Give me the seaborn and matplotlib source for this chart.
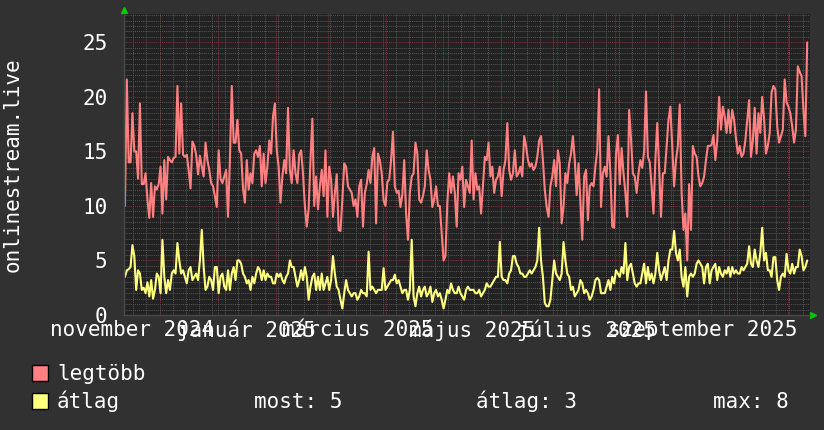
import matplotlib
matplotlib.use("Agg")
import matplotlib.pyplot as plt
from matplotlib.patches import Rectangle
from matplotlib.ticker import MultipleLocator
import pandas as pd
import seaborn as sns

# daily values, first day 2024-11-13
start_day = "2024-11-13"

legtobb = [
    10, 21.6, 14, 14, 18.5, 15, 15, 12.5, 19.4, 12, 12, 13, 10.6, 8.9, 12.1, 9, 11.8, 11.5,
    12, 13.6, 9.3, 14.2, 10.6, 14.5, 14.2, 14, 14.4, 14.5, 21, 14.8, 19.4, 14.7, 14.5, 14.7,
    13.3, 11.6, 15.9, 15.5, 14.7, 12.9, 14.6, 13.6, 12.7, 15.8, 14.2, 13.3, 12.1, 11.8, 10.9,
    9.9, 15.1, 12.5, 12.1, 12.7, 13.3, 9, 14.2, 21, 15.8, 15.8, 17.9, 15.1, 14.8, 11.6, 10.3,
    14.2, 11.5, 13, 12.1, 14.8, 15.1, 14.5, 15.5, 11.8, 14.8, 12.1, 13.6, 16, 14.8, 18.2,
    19.4, 15.1, 13.6, 10.3, 12.7, 14.2, 13, 19, 13.3, 12.1, 15.1, 13, 12.1, 14.7, 15.1, 13,
    10, 8.1, 9.7, 14.2, 18, 10, 12.7, 9.7, 11.8, 13.3, 10.9, 15.1,
    9, 13.6, 12.4, 9, 11.2, 12.9, 7.8, 7.7, 10.6, 13.9, 13.6, 11.8, 11.5, 11.2, 10, 10.6,
    9, 11.8, 12.4, 8.1, 11.2, 12, 13.3, 12.1,
    14.5, 15.3, 8.4, 14.8, 14.2, 13, 10.5, 10, 12.2, 12.4,
    14.2, 16.8, 11.8, 11.2, 11.4, 9.9, 11, 14.2, 9.3, 6.9,
    11.2, 12.7, 13, 15.8, 14.8, 10.6, 10.3, 10.9, 11.8, 15.1,
    13.3, 12.4, 9.9, 10.6, 11.8, 10, 10, 7.5, 5, 5.4,
    10.3, 13, 11.2, 12.7, 11.2, 8.1, 13, 12.4, 13.6, 9.9,
    12.4, 11.8, 11.2, 16, 10.6, 13, 11.5, 11.8, 9.3, 11.8,
    14.5, 14.2, 15.8, 12.7, 13.6, 11.2, 12.4, 12.7, 13.6, 10.9,
    13.3, 14.2, 17.6, 13.3, 12.4, 13, 15.1, 12.7, 13, 13.6,
    12.7, 16.4, 15.5, 14.2, 13.6, 13.9, 13.3, 13.6, 14.5, 16,
    16.4, 14.2, 11.5, 9.9, 9, 11.8, 12.7, 14.2, 11.8, 15.1,
    13.9, 8.4, 9.9, 13, 12.1, 13.9, 14.8, 16.4, 14.2, 11,
    13.9, 10.3, 6.9, 12.7, 13.3, 8.7, 11.8, 12.1, 11.8, 13.6,
    15.1, 20.7, 9.9, 13, 13.6, 12.7, 16.4, 13,
    8.1, 8, 14.8, 16.5, 12, 15.3, 13, 11.2, 9, 18.8,
    16.2, 13, 12.7, 11.2, 13, 14.2, 13.5, 15, 20.5, 14.5,
    14, 11.8, 9.3, 14.2, 17.6, 13.6, 9, 13, 13, 15.5,
    17.9, 19.1, 15.5, 11.8, 14.2, 15.5, 19.3, 11.2, 7.8, 9.3,
    5, 12, 7.8, 15.5, 14.8, 14.5, 12.7, 11.8, 12.1, 12.7,
    14.2, 15.5, 15.5, 15.6, 16.5, 14.2, 16, 20, 17, 19.1,
    18.2, 16.7, 18.8, 16.7, 18.8, 17.9, 16.2, 14.8, 15.5, 14.5,
    14.8, 16, 17.9, 19.7, 14.5, 16, 19, 14.8, 18.5, 16.7,
    20, 18, 14.8, 15.5, 16.7, 20.4, 21, 20.7, 17.3, 15.8,
    16.4, 17, 21.6, 19.5, 19.1, 18.5, 17.3, 15.8, 17, 22.8,
    22.3, 21.9, 18.8, 16.4, 25,
]

atlag = [
    3.5, 4.1, 4.2, 4.4, 6.4, 5.4, 2.3, 4.1, 3.8, 2.3,
    2.5, 2.0, 3, 1.7, 3.2, 1.5, 2.3, 3.8, 3.5, 2,
    6.9, 3.5, 2, 3.2, 2.3, 3.8, 4.1, 3.8, 6.6, 5,
    3.8, 4.1, 3.5, 2.9, 4.1, 4.4, 3.2, 3.5, 3.8, 3.2,
    5, 7.8, 4.4, 2.3, 2.6, 3.5, 3.2, 2.3, 4.4, 4.4,
    2, 3.5, 3.8, 2.6, 2.3, 4.1, 2.3, 3.8, 4.4, 3.2,
    5, 5, 4.7, 3.8, 3.5, 2.9, 3.2, 2.3, 3.5, 2.9,
    3.8, 4.4, 4.1, 3.2, 4.1, 3.2, 3.8, 3.5, 3.5, 2.9,
    2.9, 3.8, 3.5, 3.8, 3.2, 2.9, 3.5, 3.8, 5, 4.4,
    4.4, 3.5, 2.6, 3.2, 4.1, 3.2, 4.4, 3.5, 1.4, 2.6,
    3.5, 3.8, 2.3, 3.5, 2.3, 3.8, 2.3, 2.9, 3.5, 2.3,
    3.2, 5.4, 3.8, 2.6, 2.3, 1.4, 0.6, 2, 3.2, 2.3,
    2, 1.7, 2, 2, 1.4, 1.7, 2.3, 2, 2, 1.7,
    5.8, 2.3,
    2.6, 2.3, 2, 2.3, 2.3, 2.3, 4.3, 2.3, 2.6, 2.9,
    3.2, 3.2, 3.7, 2.9, 3.2, 2.6, 2, 2.3, 2.3, 1.4,
    2.3, 6.9, 1.7, 0.8, 2, 2.6, 1.7, 2.3, 2.6, 1.7,
    2, 2.6, 1.2, 2, 2.3, 1.7, 2, 1.4, 0.6, 1.4,
    2.3, 2, 2.9, 2.3, 2, 2, 2.6, 2, 1.7, 1.4,
    2.3, 2.6, 2.3, 2.3, 2.3, 2, 2, 2.3, 1.7, 2,
    2.3, 2.9, 2.6, 2.6, 2.9, 3.2, 3.5, 3.5, 6.7, 3.5,
    3.2, 3.2, 2.9, 3.8, 4.1, 5.4, 5.4, 4.7, 4.4, 3.8,
    3.8, 3.5, 3.5, 3.8, 4.1, 3.8, 4.1, 4.4, 5, 8,
    5, 3.5, 1.1, 0.8, 0.8, 1.4, 3.2, 5, 3.8, 3.5,
    3.2, 3.8, 6.7, 5, 3.8, 3.5, 2.3, 2.6, 1.7, 2,
    2.3, 3.2, 2.9, 2, 2.3, 2, 1.4, 1.7, 2.3, 3.2,
    3.4, 3.2, 2, 2, 2, 2.6, 3.2, 2.3,
    3.5, 2.9, 4.1, 3.8, 3.5, 4.4, 3.8, 6.6, 3.2, 4.4,
    4.7, 3.8, 2.9, 2.6, 2.9, 2.9, 3.8, 4.7, 2.9, 4.4,
    3.2, 3.8, 2.9, 3.8, 5.7, 4.1, 3.2, 3.8, 4.4, 3.2,
    5, 6, 6, 7.7, 5.7, 5, 6, 3.5, 2.6, 4.4,
    1.7, 3.5, 3.8, 3.5, 3.8, 4.7, 5, 4.7, 4.4, 2.9,
    4.4, 4.7, 2.9, 4.1, 4.4, 4.7, 3.2, 4.4, 3.8, 3.5,
    4.1, 3.8, 4.4, 3.5, 4.4, 3.8, 4.1, 3.8, 3.8, 4.4,
    4.1, 4.4, 4.7, 6.3, 4.7, 4.4, 6, 5, 4.4, 5.7,
    8, 5, 5.7, 4.1, 4.1, 3.5, 5.3, 5.3, 3.2, 2.3,
    3.5, 3.8, 3.5, 5.6, 4.1, 3.8, 4.7, 3.8, 4.4, 4.4,
    6, 5.4, 4.1, 4.4, 5,
]

label_months = ["2024-11-01", "2025-01-01", "2025-03-01", "2025-05-01", "2025-07-01", "2025-09-01"]
label_names = ["november 2024", "január 2025", "március 2025", "május 2025", "július 2025", "szeptember 2025"]

red = "#ff8080"
yellow = "#ffff80"
bg = "#313131"
canvas = "#222222"

dates = pd.date_range(start_day, periods=len(legtobb), freq="D")
df = pd.DataFrame({"datum": dates, "legtöbb": legtobb, "átlag": atlag})
long = df.melt(id_vars="datum", var_name="sorozat", value_name="ertek")

sns.set_style("dark")
plt.rcParams["font.family"] = ["DejaVu Sans Mono"]
plt.rcParams["font.size"] = 15

fig = plt.figure(figsize=(8.24, 4.30), dpi=100, facecolor=bg)
ax = fig.add_axes([124 / 824, 1 - 315 / 430, 686 / 824, 301 / 430])
ax.set_facecolor(canvas)

xmin = pd.Timestamp("2024-11-12 12:00")
xmax = pd.Timestamp("2025-11-13 12:00")

# grid: weeks and half units minor, months and 5 units major
for d in pd.date_range(xmin, xmax, freq="W-SUN"):
    ax.axvline(d, color="#535353", lw=0.75, ls=(0, (1, 1)), zorder=0)
for d in pd.date_range(xmin, xmax, freq="MS"):
    ax.axvline(d, color="#763434", lw=0.75, ls=(0, (1, 1)), zorder=0.5)
ax.yaxis.set_minor_locator(MultipleLocator(0.5))
ax.yaxis.set_major_locator(MultipleLocator(5))
ax.grid(True, which="minor", axis="y", color="#535353", lw=0.75, ls=(0, (1, 1)))
ax.grid(True, which="major", axis="y", color="#763434", lw=0.75, ls=(0, (1, 1)))
ax.grid(False, axis="x")
ax.set_axisbelow(True)

sns.lineplot(data=long, x="datum", y="ertek", hue="sorozat",
             palette={"legtöbb": red, "átlag": yellow}, linewidth=1.5,
             errorbar=None, legend=False, ax=ax)

ax.set_xlim(xmin, xmax)
ax.set_ylim(0, 27.6)

label_pos = [pd.Timestamp(m) + pd.Timedelta(days=16) for m in label_months]
ax.set_xticks(label_pos)
ax.set_xticklabels(label_names)
ax.tick_params(axis="x", length=0, pad=3.5, colors="white", labelsize=15)
ax.tick_params(axis="y", which="both", length=0, pad=12, colors="white", labelsize=15)
ax.set_xlabel("")
ax.set_ylabel("onlinestream.live", color="white", fontsize=15)
ax.yaxis.set_label_coords(-0.148, 0.5)

for s in ["top", "right"]:
    ax.spines[s].set_visible(False)
for s in ["bottom", "left"]:
    ax.spines[s].set_color("#4a4a4a")
    ax.spines[s].set_linewidth(1)

# axis arrows
ax.plot([0], [1.012], marker="^", color="#00cc00", markersize=4.5, transform=ax.transAxes, clip_on=False)
ax.plot([1.005], [0], marker=">", color="#00cc00", markersize=4.5, transform=ax.transAxes, clip_on=False)

# legend block
fig.patches.append(Rectangle((32 / 824, 1 - 381 / 430), 16 / 824, 16 / 430, transform=fig.transFigure,
                             facecolor=red, edgecolor="black", lw=1))
fig.patches.append(Rectangle((32 / 824, 1 - 409 / 430), 16 / 824, 16 / 430, transform=fig.transFigure,
                             facecolor=yellow, edgecolor="black", lw=1))
fig.text(57 / 824, 1 - 380 / 430, "legtöbb", color="white", fontsize=15, va="baseline")
fig.text(57 / 824, 1 - 408 / 430, "átlag", color="white", fontsize=15, va="baseline")

most = atlag[-1]
atl = sum(atlag) / len(atlag)
mx = max(atlag)
fig.text(254 / 824, 1 - 408 / 430, f"most: {most:.0f}", color="white", fontsize=15, va="baseline")
fig.text(476 / 824, 1 - 408 / 430, f"átlag: {atl:.0f}", color="white", fontsize=15, va="baseline")
fig.text(713 / 824, 1 - 408 / 430, f"max: {mx:.0f}", color="white", fontsize=15, va="baseline")

fig.savefig("out.png", dpi=100, facecolor=bg)
